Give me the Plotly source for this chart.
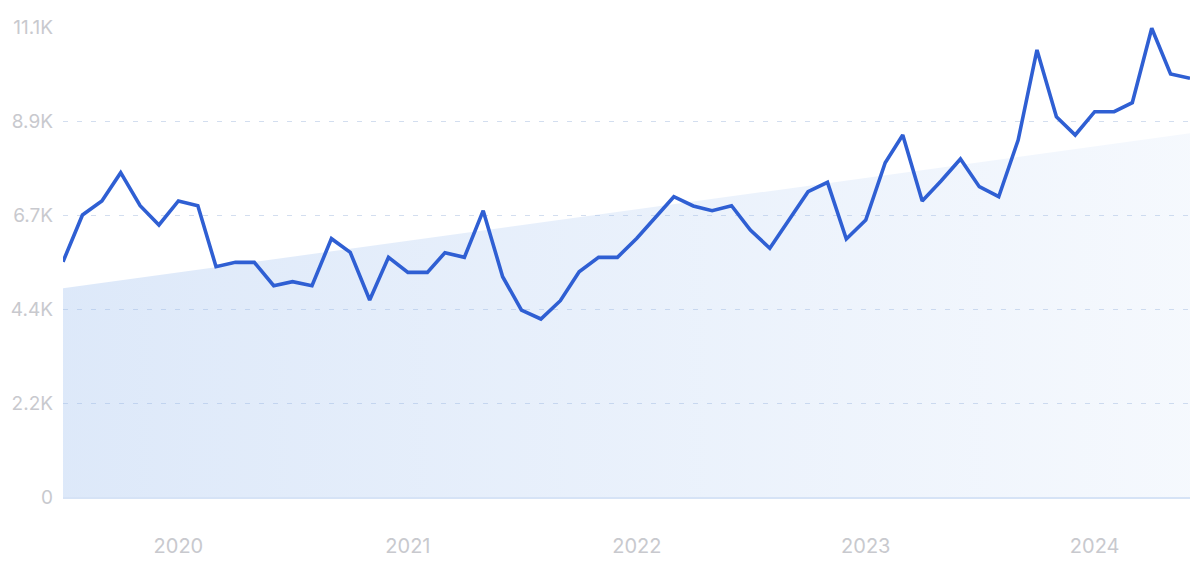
import plotly.graph_objects as go
import pandas as pd

months = pd.date_range("2019-07-01", "2024-06-01", freq="MS")
values = [5557, 6660, 6991, 7659, 6880, 6424, 6991, 6880, 5439, 5542,
          5542, 4991, 5085, 4991, 6101, 5778, 4653, 5660, 5306, 5306,
          5770, 5660, 6762, 5203, 4416, 4204, 4636, 5321, 5660, 5660,
          6110, 6620, 7092, 6873, 6762, 6880, 6306, 5873, 6540, 7211,
          7431, 6093, 6542, 7896, 8549, 6991, 7463, 7983, 7329, 7092,
          8431, 10557, 8982, 8549, 9100, 9100, 9312, 11069, 9990, 9888]
trend_start = 4930
trend_end = 8590
y_tickvals = [0, 2220, 4440, 6660, 8880, 11100]
y_ticktext = ["0", "2.2K", "4.4K", "6.7K", "8.9K", "11.1K"]
x_tickvals = ["2020-01-01", "2021-01-01", "2022-01-01", "2023-01-01", "2024-01-01"]
x_ticktext = ["2020", "2021", "2022", "2023", "2024"]

fig = go.Figure()
fig.add_trace(go.Scatter(
    x=[months[0], months[-1]], y=[trend_start, trend_end],
    mode="lines", line=dict(width=0), fill="tozeroy",
    fillgradient=dict(type="horizontal",
                      colorscale=[[0, "rgba(155,189,238,0.34)"],
                                  [0.5, "rgba(156,190,239,0.22)"],
                                  [1, "rgba(158,192,240,0.10)"]]),
    hoverinfo="skip", showlegend=False))
fig.add_trace(go.Scatter(
    x=months, y=values, mode="lines",
    line=dict(color="#2f5fd3", width=3.6, shape="linear"),
    showlegend=False))

fig.update_layout(
    width=1192, height=554,
    margin=dict(l=55, r=10, t=19, b=65),
    paper_bgcolor="white", plot_bgcolor="white",
    font=dict(family="Inter, Open Sans, sans-serif", size=20, color="#c8c9ce"),
)
fig.update_xaxes(
    type="date", range=[months[0], months[-1]],
    tickvals=x_tickvals, ticktext=x_ticktext,
    showgrid=False, zeroline=False, automargin=False,
    showline=True, linecolor="#d6e3f6", linewidth=1.5,
    ticks="", ticklabelstandoff=30,
    tickfont=dict(size=20, color="#c8c9ce"),
)
fig.update_yaxes(
    range=[0, 11100], tickvals=y_tickvals, ticktext=y_ticktext,
    showgrid=True, gridcolor="#d3deef", griddash="5px,9px", gridwidth=1,
    zeroline=False, showline=False, ticks="", ticklabelstandoff=9,
    automargin=False,
    tickfont=dict(size=19, color="#c8c9ce"),
)
fig.write_html("out.html")
